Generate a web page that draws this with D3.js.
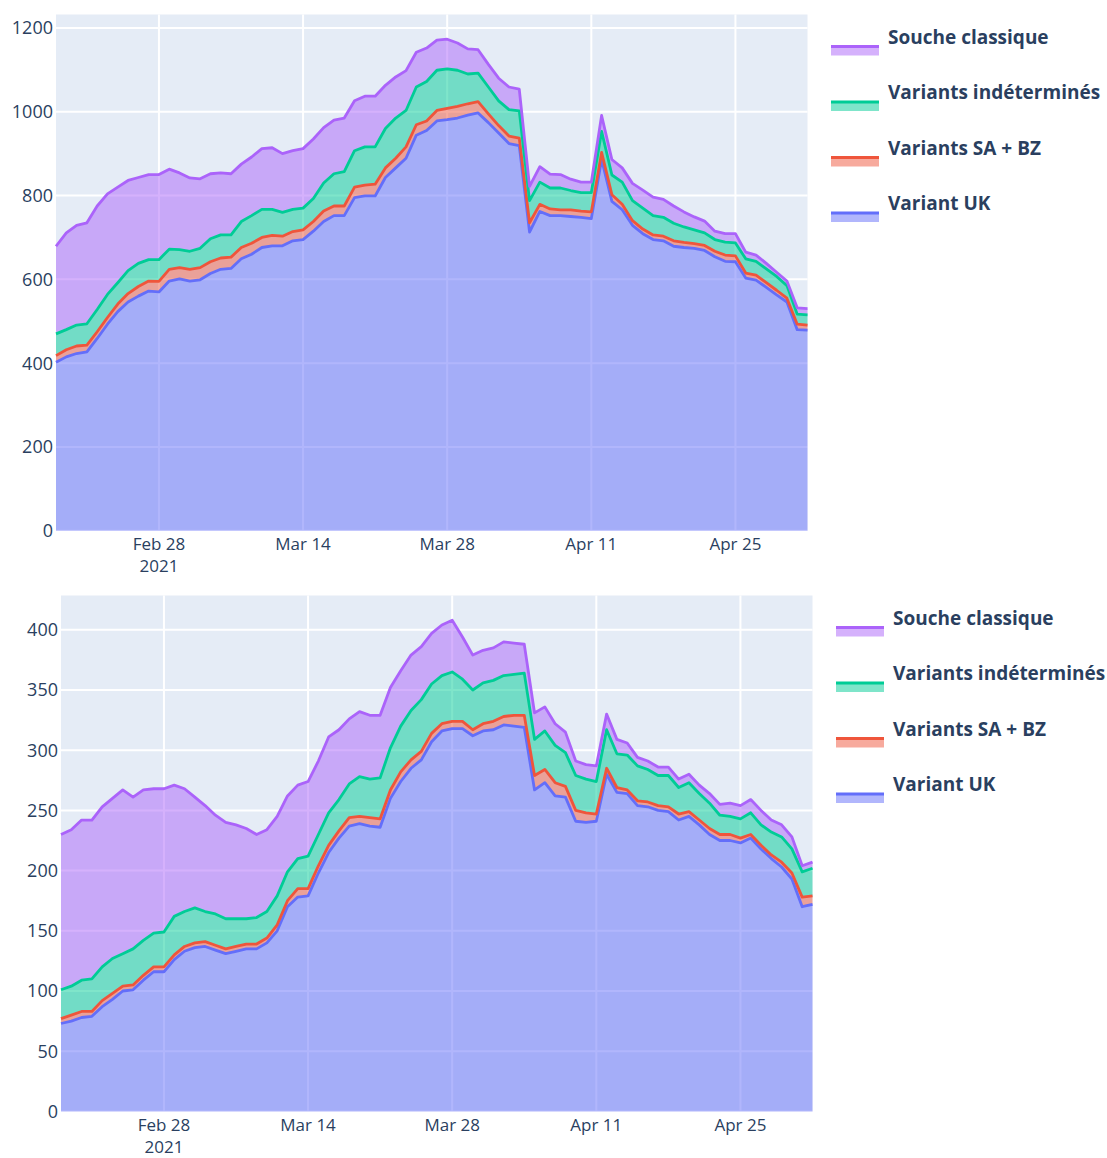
<!DOCTYPE html>
<html>
<head>
<meta charset="utf-8">
<script src="https://cdn.jsdelivr.net/npm/d3@7"></script>
<style>
  body { margin: 0; background: #fff; }
  text { font-family: 'Open Sans', sans-serif; }
</style>
</head>
<body>
<svg id="chart" width="1107" height="1158"></svg>
<script>
// one point per day, Feb 18 -> May 2 2021
const dates = d3.timeDay.range(new Date(2021, 1, 18), new Date(2021, 4, 3));

const seriesNames = ['Variant UK', 'Variants SA + BZ', 'Variants indéterminés', 'Souche classique'];
const seriesColors = ['#636efa', '#ef553b', '#00cc96', '#ab63fa'];

const xTickDates = [new Date(2021, 1, 28), new Date(2021, 2, 14), new Date(2021, 2, 28), new Date(2021, 3, 11), new Date(2021, 3, 25)];
const xTickLabels = ['Feb 28', 'Mar 14', 'Mar 28', 'Apr 11', 'Apr 25'];
const xYearLabel = '2021';

// top chart
const topUK = [402,415,423,427,459,493,523,546,560,572,570,596,601,596,599,614,624,626,649,660,676,680,680,692,
  695,715,738,752,752,795,799,799,843,866,889,944,955,978,981,985,992,997,974,949,924,919,
  713,762,752,752,750,748,745,886,786,766,729,709,695,692,679,676,674,669,654,643,642,603,598,581,563,546,480,479];
const topSA = [16,17,18,16,16,16,18,20,23,24,25,28,27,28,29,28,27,27,27,26,24,25,23,22,
  23,23,25,23,23,25,26,28,23,23,27,25,23,25,27,28,27,27,21,18,18,18,
  22,17,16,14,16,15,16,17,16,13,11,11,11,11,13,12,11,12,13,15,14,12,12,11,11,9,13,12];
const topUnd = [52,48,50,51,53,55,51,55,55,51,52,48,43,43,46,55,55,53,62,66,67,62,57,53,
  52,55,67,77,82,87,91,89,94,96,87,90,94,96,94,86,71,68,64,59,63,65,
  53,53,50,52,46,44,46,50,47,53,48,50,46,45,42,37,33,30,28,31,31,34,33,33,33,30,24,24];
const topClassic = [209,231,238,241,247,240,228,215,205,203,203,191,183,175,166,155,148,146,137,140,145,147,140,140,
  142,142,132,128,128,119,121,121,103,98,95,83,80,72,71,65,60,56,54,54,54,52,
  34,37,33,32,27,25,25,38,37,34,41,43,44,43,41,36,31,28,20,20,22,16,15,13,10,11,15,15];
const topYTicks = [0, 200, 400, 600, 800, 1000, 1200];

// bottom chart
const botUK = [73,75,78,79,87,93,100,101,109,116,116,126,133,136,137,134,131,133,135,135,140,150,170,178,
  179,198,215,227,237,239,237,236,260,274,285,292,307,316,318,318,312,316,317,321,320,319,267,273,262,
  261,241,240,241,280,265,264,254,253,250,249,242,245,238,230,225,225,223,227,218,210,203,193,170,172];
const botSA = [4,5,5,4,5,5,4,4,4,4,4,4,4,4,4,4,4,4,4,4,4,5,5,7,
  6,6,6,6,7,6,7,7,7,8,7,7,7,6,6,6,5,6,7,7,9,10,12,11,11,
  9,9,8,6,5,4,3,4,4,4,4,5,4,4,5,5,5,4,3,3,3,4,5,8,7];
const botUnd = [24,24,26,27,28,29,27,30,29,28,29,32,29,29,25,26,25,23,21,22,22,24,24,25,
  27,26,27,26,28,33,32,34,35,38,41,43,41,40,41,35,33,34,34,34,34,35,30,32,31,
  28,29,28,27,32,28,29,29,27,25,26,22,24,22,21,16,15,16,18,17,19,21,20,21,23];
const botClassic = [129,130,133,132,133,133,136,126,125,120,119,109,102,92,88,82,80,78,75,69,68,66,63,61,
  62,61,63,58,54,54,53,52,50,46,46,44,42,42,43,35,29,27,27,28,26,24,22,20,18,
  17,12,12,13,13,12,10,7,7,7,7,7,7,7,8,9,11,11,11,12,10,10,10,5,5];
const botYTicks = [0, 50, 100, 150, 200, 250, 300, 350, 400];

const svg = d3.select('#chart');

function drawChart(cfg) {
  const g = svg.append('g');
  const rows = dates.map((d, i) => {
    const r = { date: d };
    cfg.series.forEach((s, k) => r[seriesNames[k]] = s[i]);
    return r;
  });
  const stacked = d3.stack().keys(seriesNames)(rows);

  const x = d3.scaleTime().domain(d3.extent(dates)).range([cfg.left, cfg.right]);
  const y = d3.scaleLinear().domain([0, cfg.yMax]).range([cfg.bottom, cfg.top]);

  g.append('rect')
    .attr('x', cfg.left).attr('y', cfg.top)
    .attr('width', cfg.right - cfg.left).attr('height', cfg.bottom - cfg.top)
    .attr('fill', '#e5ecf6');

  // grid
  g.append('g').selectAll('line').data(cfg.yTicks).join('line')
    .attr('x1', cfg.left).attr('x2', cfg.right)
    .attr('y1', d => y(d)).attr('y2', d => y(d))
    .attr('stroke', '#fff').attr('stroke-width', 2);
  g.append('g').selectAll('line').data(xTickDates).join('line')
    .attr('x1', d => x(d)).attr('x2', d => x(d))
    .attr('y1', cfg.top).attr('y2', cfg.bottom)
    .attr('stroke', '#fff').attr('stroke-width', 2);

  const area = d3.area()
    .x(d => x(d.data.date))
    .y0(d => y(d[0]))
    .y1(d => y(d[1]));
  const line = d3.line()
    .x(d => x(d.data.date))
    .y(d => y(d[1]));

  g.append('g').selectAll('path').data(stacked).join('path')
    .attr('d', area)
    .attr('fill', (d, i) => seriesColors[i])
    .attr('fill-opacity', 0.5);
  g.append('g').selectAll('path').data(stacked).join('path')
    .attr('d', line)
    .attr('fill', 'none')
    .attr('stroke', (d, i) => seriesColors[i])
    .attr('stroke-width', 2.8)
    .attr('stroke-linejoin', 'round');

  // y tick labels
  g.append('g').selectAll('text').data(cfg.yTicks).join('text')
    .attr('x', cfg.left - 3)
    .attr('y', d => y(d))
    .attr('dy', '0.36em')
    .attr('text-anchor', 'end')
    .attr('font-size', 18)
    .attr('fill', '#2a3f5f')
    .text(d => d);

  // x tick labels
  g.append('g').selectAll('text').data(xTickDates).join('text')
    .attr('x', d => x(d))
    .attr('y', cfg.bottom + 13)
    .attr('dy', '0.36em')
    .attr('text-anchor', 'middle')
    .attr('font-size', 17)
    .attr('fill', '#2a3f5f')
    .text((d, i) => xTickLabels[i]);
  g.append('text')
    .attr('x', x(xTickDates[0]))
    .attr('y', cfg.bottom + 35.5)
    .attr('dy', '0.36em')
    .attr('text-anchor', 'middle')
    .attr('font-size', 17)
    .attr('fill', '#2a3f5f')
    .text(xYearLabel);

  // legend, reversed order like plotly stacked traces
  const legendOrder = [3, 2, 1, 0];
  const lg = g.append('g').selectAll('g').data(legendOrder).join('g')
    .attr('transform', (k, i) => 'translate(' + cfg.legendX + ',' + (cfg.legendY + i * 55.5) + ')');
  lg.append('rect')
    .attr('x', 0).attr('y', 9.5).attr('width', 48).attr('height', 9)
    .attr('fill', k => seriesColors[k]).attr('fill-opacity', 0.5);
  lg.append('line')
    .attr('x1', 0).attr('x2', 48).attr('y1', 9.5).attr('y2', 9.5)
    .attr('stroke', k => seriesColors[k]).attr('stroke-width', 3);
  lg.append('text')
    .attr('x', 57).attr('y', 0).attr('dy', '0.36em')
    .attr('font-size', 19).attr('font-weight', 700)
    .attr('fill', '#2a3f5f')
    .text(k => seriesNames[k]);
}

drawChart({
  series: [topUK, topSA, topUnd, topClassic],
  left: 56, right: 807.5, top: 14.5, bottom: 530.8, yMax: 1232,
  yTicks: topYTicks, legendX: 831, legendY: 37
});
drawChart({
  series: [botUK, botSA, botUnd, botClassic],
  left: 61, right: 812.5, top: 595.5, bottom: 1111.4, yMax: 428.5,
  yTicks: botYTicks, legendX: 836, legendY: 618
});
</script>
</body>
</html>
